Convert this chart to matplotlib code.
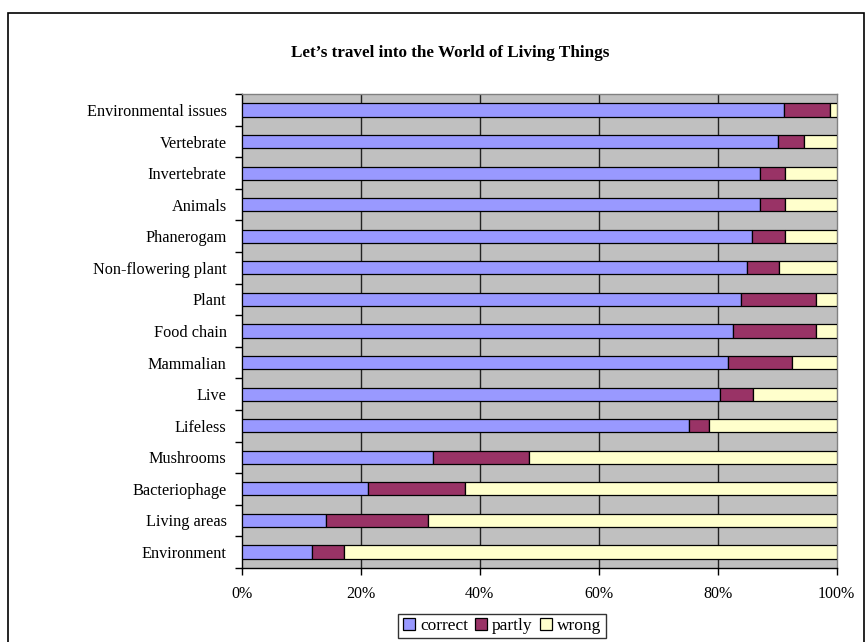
import matplotlib
matplotlib.use("Agg")
import matplotlib.pyplot as plt
from matplotlib.patches import Rectangle
import numpy as np

# Topics, listed bottom to top as they appear on the category axis
topics = ["Environment", "Living areas", "Bacteriophage", "Mushrooms", "Lifeless",
          "Live", "Mammalian", "Food chain", "Plant", "Non-flowering plant",
          "Phanerogam", "Animals", "Invertebrate", "Vertebrate", "Environmental issues"]

# Share of answers per topic (%)
correct = [11.8, 14.1, 21.3, 32.2, 75.2, 80.4, 81.7, 82.6, 83.9, 84.9, 85.8, 87.1, 87.1, 90.2, 91.2]
partly = [5.4, 17.2, 16.3, 16.1, 3.3, 5.5, 10.8, 14.0, 12.7, 5.4, 5.5, 4.2, 4.2, 4.3, 7.6]
wrong = [100 - c - p for c, p in zip(correct, partly)]

series_names = ["correct", "partly", "wrong"]
series_colors = ["#9999FF", "#993366", "#FFFFCC"]
x_ticks = [0, 20, 40, 60, 80, 100]
x_tick_labels = ["0%", "20%", "40%", "60%", "80%", "100%"]
title = "Let\u2019s travel into the World of Living Things"

plt.rcParams["font.family"] = ["Liberation Serif", "DejaVu Serif"]

W, H = 866, 642
fig = plt.figure(figsize=(W / 100, H / 100), dpi=100)

# outer chart frame
fig.patches.append(Rectangle((8 / W, 0 - 0.02), (864 - 8) / W, (H - 13) / H + 0.02,
                             transform=fig.transFigure, fill=False,
                             edgecolor="black", linewidth=1.2, zorder=0))

left, right = 241.7 / W, 836.7 / W
top, bottom = 1 - 94.2 / H, 1 - 567.8 / H
ax = fig.add_axes([left, bottom, right - left, top - bottom])
ax.set_facecolor("#C0C0C0")

y = np.arange(len(topics))
h = 0.42
lefts = np.zeros(len(topics))
for vals, name, col in zip([correct, partly, wrong], series_names, series_colors):
    ax.barh(y, vals, left=lefts, height=h, color=col, edgecolor="black",
            linewidth=0.9, label=name, zorder=3)
    lefts = lefts + np.array(vals)

ax.set_xlim(0, 100)
ax.set_ylim(-0.5, len(topics) - 0.5)

for xv in x_ticks[1:-1]:
    ax.axvline(xv, color="#222222", linewidth=1.0, zorder=1)

ax.set_xticks(x_ticks)
ax.set_xticklabels(x_tick_labels, fontsize=11.5)
ax.tick_params(axis="x", direction="out", length=5, width=1, pad=8, color="black")

ax.set_yticks(y)
ax.set_yticklabels(topics, fontsize=11.7)
ax.tick_params(axis="y", which="major", length=0, pad=10.8)
ax.set_yticks(np.arange(-0.5, len(topics), 1.0), minor=True)
ax.tick_params(axis="y", which="minor", direction="out", length=5, width=1, color="black")

for side in ["top", "right"]:
    ax.spines[side].set_color("#808080")
    ax.spines[side].set_linewidth(1.0)
for side in ["left", "bottom"]:
    ax.spines[side].set_color("black")
    ax.spines[side].set_linewidth(1.0)

fig.text(450 / W, 1 - 53 / H, title, ha="center", va="center",
         fontsize=12.3, fontweight="bold")

leg = fig.legend(loc="center", bbox_to_anchor=(502 / W, 1 - 626 / H), ncol=3,
                 fontsize=12.5, frameon=True, fancybox=False, edgecolor="black",
                 handlelength=0.7, handleheight=0.7, handletextpad=0.3,
                 columnspacing=0.4, borderpad=0.25, borderaxespad=0)
leg.get_frame().set_linewidth(1.0)

fig.savefig("out.png", dpi=100)
